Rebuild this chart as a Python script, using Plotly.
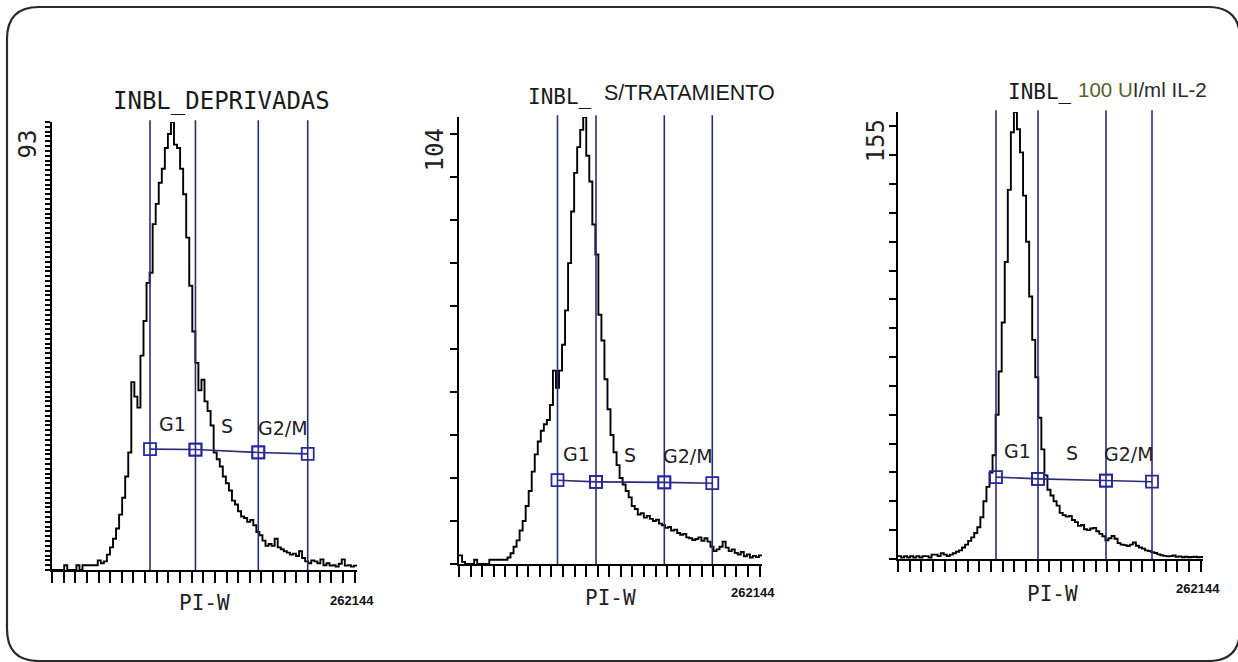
import numpy as np
import plotly.graph_objects as go

W, H = 1238, 662
FULL_SCALE = 262144  # PI-W channel range

# ---------------- data (counts per channel bin, 100 equal bins over 0..262144) ----------------
deprivadas_counts = [
    0, 0, 0, 0, 1, 0, 0, 0, 1, 0,
    1, 1, 1, 1, 1, 2, 1.4, 1.8, 3.2, 4.7,
    6.5, 8.6, 11.5, 15, 19.4, 24.4, 39, 36, 33.7, 44.5,
    51.7, 59.6, 61.7, 71.8, 76, 80.4, 83.3, 87.6, 90.5, 93,
    88.3, 87.6, 83.3, 78, 69, 59, 49.5, 43, 37.3, 39.5,
    35, 33, 30, 24.4, 23, 21.5, 19.4, 18, 16.5, 14.4,
    13.6, 12.2, 11.1, 10.8, 10, 10.4, 9.3, 7.9, 7.2, 6.1,
    5, 5.4, 5, 6.5, 4.7, 4.3, 3.9, 3.6, 3.2, 3.4,
    2.9, 3.9, 2.5, 1.8, 1.4, 2, 1.8, 1.4, 2.2, 1,
    1.4, 0.9, 1, 0.7, 1.3, 2.2, 0.9, 1, 0.7, 0.9,
]
sin_tratamiento_counts = [
    2, 0.5, 0, 0, 0, 1, 0, 0, 0, 0,
    1, 1, 1, 1, 1, 1, 1.5, 2.5, 4, 5.5,
    7.8, 10, 13.5, 17, 21.5, 25.5, 28.5, 31, 32.5, 33.5,
    37, 45, 41, 45, 51, 59, 70, 82, 91, 97,
    101, 104, 95, 89, 79, 72, 58, 52, 43, 36,
    30, 26, 23, 20, 18.5, 17, 15.5, 13.5, 12.8, 11.5,
    11.8, 10.8, 11.2, 10.5, 10, 10.3, 9.4, 9, 8.4, 8.6,
    7.8, 8, 7.2, 6.8, 7, 6.2, 6, 5.6, 5.8, 6.2,
    5.4, 6, 5.2, 4, 3, 3.4, 4, 5.2, 3.8, 3,
    3.4, 2.6, 2.2, 2.8, 1.8, 2.2, 1.5, 1.9, 1.6, 2,
]
il2_counts = [
    1, 0.5, 1, 0.5, 1, 0.5, 1, 0.5, 1, 1,
    0.5, 1.5, 1.5, 1, 2, 1.5, 1, 1.5, 2, 2.5,
    3, 4, 5, 6.3, 7.5, 9, 11, 14.5, 20, 25,
    30, 36, 50, 65, 82, 103, 128, 148, 155, 149,
    141, 126, 110, 91, 76, 63, 49, 38, 29, 24,
    22, 20, 18.5, 16, 15.2, 14.7, 14.9, 13.5, 12.8, 11.5,
    11.8, 10.3, 10, 10.6, 10.8, 9.6, 8.7, 7.9, 6.5, 7.2,
    8, 7, 5.5, 5, 4.8, 4.5, 5, 5.7, 4.6, 4,
    3.6, 3, 2.8, 2.4, 2.1, 1.6, 1.3, 1.1, 0.9, 1,
    1.2, 0.8, 0.9, 0.6, 0.8, 0.6, 0.7, 0.8, 0.6, 0.7,
]

y_max_labels = [93, 104, 155]
x_max_label = "262144"
x_title = "PI-W"
phase_labels = ["G1", "S", "G2/M"]

gates_deprivadas = [84230, 123300, 177300, 219800]
gate_bar_deprivadas = [25.1, 25.0, 24.4, 24.1]
gates_sin_tratamiento = [85220, 118530, 177620, 219140]
gate_bar_sin_tratamiento = [19.5, 19.1, 19.0, 18.8]
gates_il2 = [84230, 120330, 178780, 218310]
gate_bar_il2 = [28.4, 27.8, 27.2, 26.8]

# ---------------- layout helpers (pixel -> paper) ----------------
def px(x):
    return x / W

def py(y):
    return 1 - y / H

panels = [
    dict(counts=deprivadas_counts, ymax=y_max_labels[0], gates=gates_deprivadas,
         bar=gate_bar_deprivadas, xd=(52, 357), yd=(570, 122), ydtick=1, yticklen=5,
         ylab=(28, 128), pil=(204, 603), xml=(352, 600)),
    dict(counts=sin_tratamiento_counts, ymax=y_max_labels[1], gates=gates_sin_tratamiento,
         bar=gate_bar_sin_tratamiento, xd=(459, 762), yd=(564, 117), ydtick=10, yticklen=7,
         ylab=(434, 127), pil=(610, 598), xml=(753, 592)),
    dict(counts=il2_counts, ymax=y_max_labels[2], gates=gates_il2,
         bar=gate_bar_il2, xd=(898, 1203), yd=(559, 112), ydtick=10, yticklen=7,
         ylab=(876, 118), pil=(1052, 594), xml=(1198, 588)),
]

GATE_LINE = "#2c2c78"
GATE_MARK = "#2626a6"
MONO = "DejaVu Sans Mono, Liberation Mono, monospace"
SANS = "Liberation Sans, Arial, sans-serif"

fig = go.Figure()
shapes = []
annotations = []
layout_axes = {}

for i, p in enumerate(panels, start=1):
    xa = "x" if i == 1 else f"x{i}"
    ya = "y" if i == 1 else f"y{i}"
    counts = p["counts"]
    edges = np.linspace(0, FULL_SCALE, len(counts) + 1)
    yvals = list(counts) + [counts[-1]]
    fig.add_trace(go.Scatter(
        x=edges, y=yvals, mode="lines", line=dict(color="black", width=1.9, shape="hv"),
        xaxis=xa, yaxis=ya, showlegend=False, hoverinfo="skip"))

    g = p["gates"]
    b = p["bar"]
    for gx in g:
        shapes.append(dict(type="line", xref=xa, yref=f"{ya} domain", x0=gx, x1=gx, y0=0, y1=1.004,
                           line=dict(color=GATE_LINE, width=1.6), layer="above"))
    for k in range(3):
        fig.add_trace(go.Scatter(
            x=[g[k], g[k + 1]], y=[b[k], b[k + 1]], mode="lines+markers",
            line=dict(color=GATE_LINE, width=1.6),
            marker=dict(symbol="square-open", size=12, color=GATE_MARK, line=dict(width=1.8, color=GATE_MARK)),
            xaxis=xa, yaxis=ya, showlegend=False, hoverinfo="skip"))
        annotations.append(dict(
            x=(g[k] + g[k + 1]) / 2, y=(b[k] + b[k + 1]) / 2, xref=xa, yref=ya,
            text=phase_labels[k], showarrow=False, yshift=27 if i > 1 else 25,
            font=dict(family="DejaVu Sans, Verdana, sans-serif", size=19, color="#222222")))

    x0, x1 = p["xd"]
    yb, yt = p["yd"]
    layout_axes[("xaxis" if i == 1 else f"xaxis{i}")] = dict(
        domain=[px(x0), px(x1)], anchor=ya, range=[0, FULL_SCALE],
        showgrid=False, zeroline=False, showline=True, linecolor="black", linewidth=2,
        ticks="outside", tick0=0, dtick=10000, ticklen=11, tickwidth=1.6, tickcolor="black",
        showticklabels=False, fixedrange=True)
    layout_axes[("yaxis" if i == 1 else f"yaxis{i}")] = dict(
        domain=[py(yb), py(yt)], anchor=xa, range=[0, p["ymax"]],
        showgrid=False, zeroline=False, showline=True, linecolor="black", linewidth=2,
        ticks="outside", tick0=0, dtick=p["ydtick"], ticklen=p["yticklen"],
        tickwidth=2 if i == 1 else 1.6,
        tickcolor="black", showticklabels=False, fixedrange=True)

    # rotated max-count label
    annotations.append(dict(
        x=px(p["ylab"][0]), y=py(p["ylab"][1]), xref="paper", yref="paper",
        text=str(p["ymax"]), textangle=-90, showarrow=False, xanchor="center", yanchor="top",
        font=dict(family=MONO, size=24, color="#222222")))
    # axis title
    annotations.append(dict(
        x=px(p["pil"][0]), y=py(p["pil"][1]), xref="paper", yref="paper",
        text=x_title, showarrow=False, xanchor="center", yanchor="middle",
        font=dict(family=MONO, size=21, color="#222222")))
    # full-scale label
    annotations.append(dict(
        x=px(p["xml"][0]), y=py(p["xml"][1]), xref="paper", yref="paper",
        text=f"<b>{x_max_label}</b>", showarrow=False, xanchor="center", yanchor="middle",
        font=dict(family=SANS, size=13, color="#111111")))

# titles
annotations += [
    dict(x=px(221), y=py(101), xref="paper", yref="paper", text="INBL_DEPRIVADAS",
         showarrow=False, xanchor="center", yanchor="middle",
         font=dict(family=MONO, size=24, color="#1a1a1a")),
    dict(x=px(560), y=py(97), xref="paper", yref="paper", text="INBL_",
         showarrow=False, xanchor="center", yanchor="middle",
         font=dict(family=MONO, size=21, color="#1a1a1a")),
    dict(x=px(602), y=py(93), xref="paper", yref="paper", text="S/TRATAMIENTO",
         showarrow=False, xanchor="left", yanchor="middle",
         font=dict(family=SANS, size=21.5, color="#1a1a1a")),
    dict(x=px(1040), y=py(92), xref="paper", yref="paper", text="INBL_",
         showarrow=False, xanchor="center", yanchor="middle",
         font=dict(family=MONO, size=21, color="#1a1a1a")),
    dict(x=px(1076), y=py(90), xref="paper", yref="paper",
         text="<span style='color:#5e5e30'>100 U</span>I/ml IL-2",
         showarrow=False, xanchor="left", yanchor="middle",
         font=dict(family=SANS, size=20.5, color="#2a2a2a")),
]

# rounded outer frame
def rounded_rect(x0, y0, x1, y1, r):
    pts = [
        f"M {px(x0 + r)},{py(y0)}",
        f"L {px(x1 - r)},{py(y0)}",
        f"Q {px(x1)},{py(y0)} {px(x1)},{py(y0 + r)}",
        f"L {px(x1)},{py(y1 - r)}",
        f"Q {px(x1)},{py(y1)} {px(x1 - r)},{py(y1)}",
        f"L {px(x0 + r)},{py(y1)}",
        f"Q {px(x0)},{py(y1)} {px(x0)},{py(y1 - r)}",
        f"L {px(x0)},{py(y0 + r)}",
        f"Q {px(x0)},{py(y0)} {px(x0 + r)},{py(y0)} Z",
    ]
    return " ".join(pts)

shapes.append(dict(type="path", xref="paper", yref="paper", path=rounded_rect(7, 7, 1240, 661, 32),
                   line=dict(color="#2a2a2a", width=2.2), layer="above"))

fig.update_layout(
    width=W, height=H, margin=dict(l=0, r=0, t=0, b=0),
    paper_bgcolor="white", plot_bgcolor="white",
    shapes=shapes, annotations=annotations, showlegend=False,
    **layout_axes)

fig.write_html(
    "out.html",
    config={"displayModeBar": False},
    post_script="document.body.style.margin='0';document.body.style.overflow='hidden';",
)
